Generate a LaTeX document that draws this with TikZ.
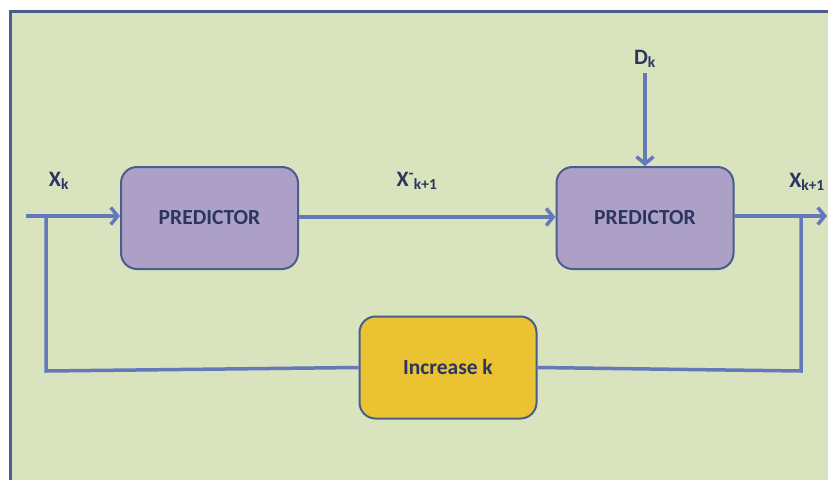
\documentclass[tikz,border=0pt]{standalone}
\usepackage{fontspec}
\setmainfont{Carlito}
\usetikzlibrary{arrows.meta}
\definecolor{bg}{HTML}{D9E3BE}
\definecolor{frame}{HTML}{4A5D8E}
\definecolor{wire}{HTML}{6479BD}
\definecolor{predfill}{HTML}{ADA0C7}
\definecolor{incfill}{HTML}{EBC232}
\definecolor{ink}{HTML}{2B3560}
\tikzset{
  block/.style={draw=frame, line width=2pt, rounded corners=16pt, minimum width=177pt, minimum height=102pt, inner sep=0pt, text=ink, font=\bfseries},
  predbox/.style={block, fill=predfill, font=\bfseries\fontsize{21.5}{24}\selectfont},
  incbox/.style={block, fill=incfill, font=\bfseries\fontsize{21.5}{24}\selectfont},
  wireline/.style={draw=wire, line width=3.5pt},
  wirearrow/.style={wireline, -{Straight Barb[length=7pt,width=17pt,line width=3.5pt]}},
  lbl/.style={text=ink, font=\bfseries\fontsize{22}{25}\selectfont, inner sep=0pt}
}
\begin{document}
\begin{tikzpicture}[x=1pt,y=-1pt]
\useasboundingbox (0,0) rectangle (828,480);
% panel and its frame
\fill[bg] (9,10) rectangle (828,480);
\draw[frame, line width=3pt] (10.5,480) -- (10.5,11.5) -- (828,11.5);

% blocks
\node[predbox] (p1) at (209.5,218) {PREDICTOR};
\node[predbox] (p2) at (645,218) {PREDICTOR};
\node[incbox] (inc) at (448,367.5) {Increase k};

% terminals and corners
\coordinate (in) at (26,216);
\coordinate (out) at (827,216);
\coordinate (tapL) at (46,216);
\coordinate (tapR) at (801,216);
\coordinate (botL) at (46,371);
\coordinate (botR) at (801,371);
\coordinate (dsrc) at (645,73);

% connectors
\draw[wirearrow] (in) -- (in -| p1.west);
\draw[wirearrow] (p1.east |- 0,217) -- (p2.west |- 0,217);
\draw[wirearrow] (p2.east |- out) -- (out);
\draw[wirearrow] (dsrc) -- (p2.north);
\draw[wireline] (tapL) -- (botL) -- (inc.west);
\draw[wireline] (tapR) -- (botR) -- (inc.east);

% labels
\node[lbl] (xk) at (59,181) {X\textsubscript{k}};
\node[lbl] (xm) at (417,181) {X\textsuperscript{-}\textsubscript{k+1}};
\node[lbl] (xo) at (807,182) {X\textsubscript{k+1}};
\node[lbl] (dk) at (645,59) {D\textsubscript{k}};
\end{tikzpicture}
\end{document}
